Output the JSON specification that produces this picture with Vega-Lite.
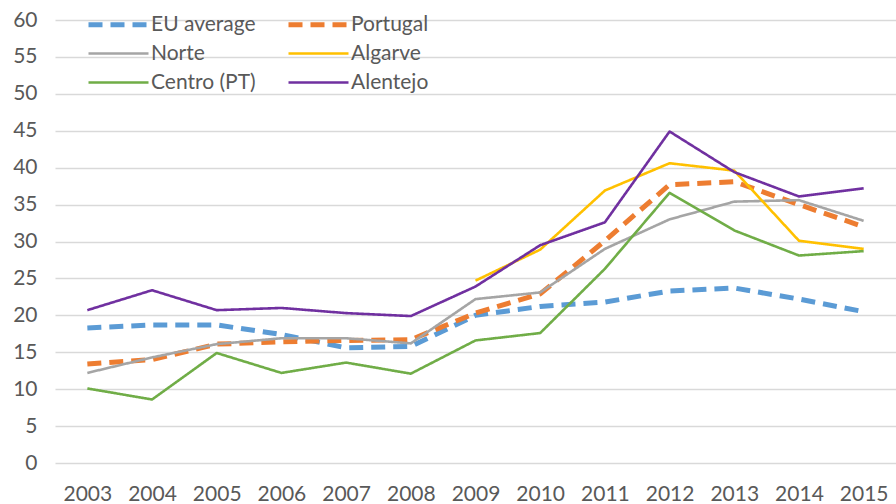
{
  "$schema": "https://vega.github.io/schema/vega-lite/v6.json",
  "width": 841,
  "height": 443,
  "autosize": {"type": "none"},
  "padding": {"left": 55, "top": 20, "right": 0, "bottom": 41},
  "background": "white",
  "config": {"view": {"stroke": null}, "font": "Lato"},
  "data": {
    "values": [
      {"year": 2003, "series": "EU average", "value": 18.3},
      {"year": 2004, "series": "EU average", "value": 18.7},
      {"year": 2005, "series": "EU average", "value": 18.7},
      {"year": 2006, "series": "EU average", "value": 17.4},
      {"year": 2007, "series": "EU average", "value": 15.6},
      {"year": 2008, "series": "EU average", "value": 15.8},
      {"year": 2009, "series": "EU average", "value": 20.0},
      {"year": 2010, "series": "EU average", "value": 21.2},
      {"year": 2011, "series": "EU average", "value": 21.8},
      {"year": 2012, "series": "EU average", "value": 23.3},
      {"year": 2013, "series": "EU average", "value": 23.7},
      {"year": 2014, "series": "EU average", "value": 22.2},
      {"year": 2015, "series": "EU average", "value": 20.5},
      {"year": 2003, "series": "Portugal", "value": 13.4},
      {"year": 2004, "series": "Portugal", "value": 14.0},
      {"year": 2005, "series": "Portugal", "value": 16.1},
      {"year": 2006, "series": "Portugal", "value": 16.4},
      {"year": 2007, "series": "Portugal", "value": 16.6},
      {"year": 2008, "series": "Portugal", "value": 16.7},
      {"year": 2009, "series": "Portugal", "value": 20.3},
      {"year": 2010, "series": "Portugal", "value": 22.9},
      {"year": 2011, "series": "Portugal", "value": 30.1},
      {"year": 2012, "series": "Portugal", "value": 37.7},
      {"year": 2013, "series": "Portugal", "value": 38.1},
      {"year": 2014, "series": "Portugal", "value": 35.0},
      {"year": 2015, "series": "Portugal", "value": 32.0},
      {"year": 2003, "series": "Norte", "value": 12.2},
      {"year": 2004, "series": "Norte", "value": 14.3},
      {"year": 2005, "series": "Norte", "value": 16.1},
      {"year": 2006, "series": "Norte", "value": 16.9},
      {"year": 2007, "series": "Norte", "value": 16.9},
      {"year": 2008, "series": "Norte", "value": 16.2},
      {"year": 2009, "series": "Norte", "value": 22.2},
      {"year": 2010, "series": "Norte", "value": 23.1},
      {"year": 2011, "series": "Norte", "value": 29.0},
      {"year": 2012, "series": "Norte", "value": 33.0},
      {"year": 2013, "series": "Norte", "value": 35.4},
      {"year": 2014, "series": "Norte", "value": 35.6},
      {"year": 2015, "series": "Norte", "value": 32.8},
      {"year": 2009, "series": "Algarve", "value": 24.7},
      {"year": 2010, "series": "Algarve", "value": 28.9},
      {"year": 2011, "series": "Algarve", "value": 36.9},
      {"year": 2012, "series": "Algarve", "value": 40.6},
      {"year": 2013, "series": "Algarve", "value": 39.6},
      {"year": 2014, "series": "Algarve", "value": 30.1},
      {"year": 2015, "series": "Algarve", "value": 29.0},
      {"year": 2003, "series": "Centro (PT)", "value": 10.1},
      {"year": 2004, "series": "Centro (PT)", "value": 8.6},
      {"year": 2005, "series": "Centro (PT)", "value": 14.9},
      {"year": 2006, "series": "Centro (PT)", "value": 12.2},
      {"year": 2007, "series": "Centro (PT)", "value": 13.6},
      {"year": 2008, "series": "Centro (PT)", "value": 12.1},
      {"year": 2009, "series": "Centro (PT)", "value": 16.6},
      {"year": 2010, "series": "Centro (PT)", "value": 17.6},
      {"year": 2011, "series": "Centro (PT)", "value": 26.3},
      {"year": 2012, "series": "Centro (PT)", "value": 36.6},
      {"year": 2013, "series": "Centro (PT)", "value": 31.5},
      {"year": 2014, "series": "Centro (PT)", "value": 28.1},
      {"year": 2015, "series": "Centro (PT)", "value": 28.7},
      {"year": 2003, "series": "Alentejo", "value": 20.7},
      {"year": 2004, "series": "Alentejo", "value": 23.4},
      {"year": 2005, "series": "Alentejo", "value": 20.7},
      {"year": 2006, "series": "Alentejo", "value": 21.0},
      {"year": 2007, "series": "Alentejo", "value": 20.3},
      {"year": 2008, "series": "Alentejo", "value": 19.9},
      {"year": 2009, "series": "Alentejo", "value": 23.9},
      {"year": 2010, "series": "Alentejo", "value": 29.5},
      {"year": 2011, "series": "Alentejo", "value": 32.6},
      {"year": 2012, "series": "Alentejo", "value": 44.9},
      {"year": 2013, "series": "Alentejo", "value": 39.4},
      {"year": 2014, "series": "Alentejo", "value": 36.1},
      {"year": 2015, "series": "Alentejo", "value": 37.2}
    ]
  },
  "mark": {"type": "line", "strokeCap": "butt", "strokeJoin": "round"},
  "encoding": {
    "x": {
      "field": "year",
      "type": "ordinal",
      "scale": {"type": "point", "padding": 0.5},
      "axis": {
        "title": null,
        "labelAngle": 0,
        "domain": false,
        "ticks": false,
        "grid": false,
        "labelPadding": 20,
        "labelFontSize": 21,
        "labelColor": "#595959"
      }
    },
    "y": {
      "field": "value",
      "type": "quantitative",
      "scale": {"domain": [0, 60], "nice": false},
      "axis": {
        "title": null,
        "values": [0, 5, 10, 15, 20, 25, 30, 35, 40, 45, 50, 55, 60],
        "domain": false,
        "ticks": false,
        "grid": true,
        "gridColor": "#d9d9d9",
        "gridWidth": 1.3,
        "labelPadding": 18,
        "labelFontSize": 21,
        "labelColor": "#595959"
      }
    },
    "color": {
      "field": "series",
      "type": "nominal",
      "scale": {
        "domain": ["EU average", "Portugal", "Norte", "Algarve", "Centro (PT)", "Alentejo"],
        "range": ["#5B9BD5", "#ED7D31", "#A5A5A5", "#FFC000", "#70AD47", "#7030A0"]
      },
      "legend": {
        "title": null,
        "orient": "none",
        "legendX": 53,
        "legendY": -6,
        "columns": 2,
        "direction": "horizontal",
        "symbolType": "M-2,0H2",
        "symbolSize": 900,
        "labelFontSize": 21,
        "labelColor": "#595959",
        "labelOffset": 22,
        "rowPadding": 7,
        "columnPadding": 22,
        "encode": {
          "symbols": {
            "update": {
              "strokeWidth": {"signal": "datum.value === 'EU average' || datum.value === 'Portugal' ? 5 : 2.6"}
            }
          }
        }
      }
    },
    "strokeDash": {
      "field": "series",
      "type": "nominal",
      "scale": {
        "domain": ["EU average", "Portugal", "Norte", "Algarve", "Centro (PT)", "Alentejo"],
        "range": [[14, 8], [14, 8], [1, 0], [1, 0], [1, 0], [1, 0]]
      },
      "legend": null
    },
    "strokeWidth": {
      "condition": {"test": "datum.series === 'EU average' || datum.series === 'Portugal'", "value": 5},
      "value": 2.6
    }
  }
}
